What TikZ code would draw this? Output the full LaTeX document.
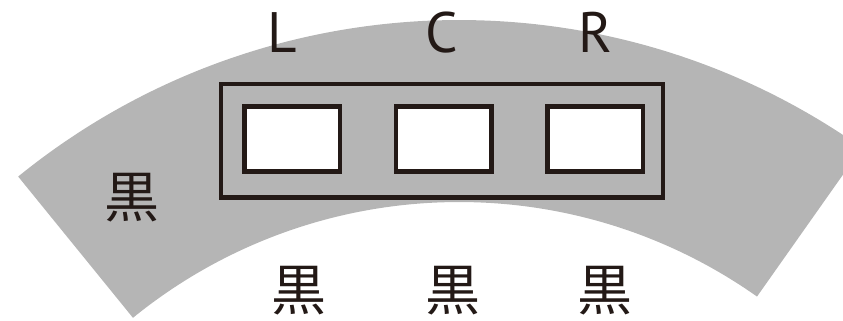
\documentclass[tikz,border=0pt]{standalone}
\usepackage{fontspec}
\setmainfont{PT Sans}
\newfontfamily\jpfont{Noto Sans CJK JP}
\definecolor{bandgray}{RGB}{181,181,181}
\definecolor{ink}{RGB}{35,25,22}
\begin{document}
\begin{tikzpicture}[x=1pt,y=1pt,
  frame/.style={draw=ink,line width=4.5pt,minimum width=442pt,minimum height=113.5pt,inner sep=0pt},
  cell/.style={draw=ink,fill=white,line width=4.5pt,minimum width=95.5pt,minimum height=65pt,inner sep=0pt},
  letter/.style={font=\fontsize{57}{60}\selectfont,text=ink,anchor=base,inner sep=0pt},
  kuro/.style={font=\jpfont\fontsize{55}{60}\selectfont,text=ink,inner sep=0pt}]
\useasboundingbox (0,0) rectangle (843,321);
\begin{scope}
\clip (0,0) rectangle (843,321);
\fill[bandgray] ([shift={(459,-398)}]129.1:699) arc[start angle=129.1,end angle=54.8,radius=699]
  -- ([shift={(459,-398)}]54.8:517) arc[start angle=54.8,end angle=129.1,radius=517] -- cycle;
\end{scope}
\node[frame] (box) at (442,180.25) {};
\node[cell] (cl) at (292.25,182) {};
\node[cell] (cc) at (443.5,182) {};
\node[cell] (cr) at (595,182) {};
\node[letter] (tl) at (282,268) {L};
\node[letter] (tc) at (442,268) {C};
\node[letter] (tr) at (595,268) {R};
\node[kuro] (k0) at (132,123.5) {黒};
\node[kuro] (k1) at (298.5,30) {黒};
\node[kuro] (k2) at (453,30) {黒};
\node[kuro] (k3) at (605,30) {黒};
\end{tikzpicture}
\end{document}
